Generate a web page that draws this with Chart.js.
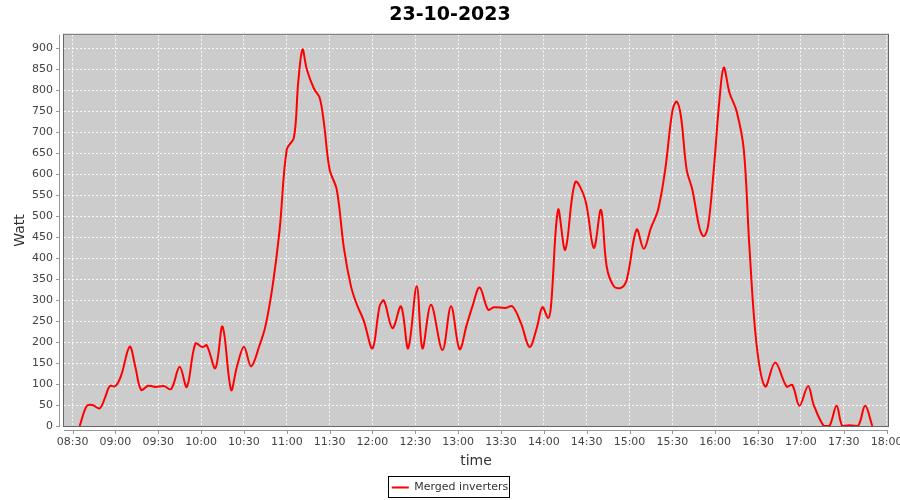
<!DOCTYPE html>
<html>
<head>
<meta charset="utf-8">
<title>23-10-2023</title>
<script src="https://cdn.jsdelivr.net/npm/chart.js@4.4.0/dist/chart.umd.min.js"></script>
<style>
  html, body { margin: 0; padding: 0; background: #ffffff; }
  #wrap { width: 900px; height: 500px; }
</style>
</head>
<body>
<div id="wrap"><canvas id="chart" width="900" height="500"></canvas></div>
<script>
'use strict';

// readings of the merged inverters, time of day and power in watt
let times = ['08:35', '08:40', '08:44', '08:49', '08:53', '08:56', '09:00', '09:04', '09:10', '09:14',
    '09:18', '09:23', '09:28', '09:34', '09:39', '09:45', '09:50', '09:56', '10:01', '10:04',
    '10:10', '10:15', '10:21', '10:25', '10:30', '10:35', '10:41', '10:45', '10:50', '10:55',
    '11:00', '11:05', '11:08', '11:11', '11:14', '11:19', '11:23', '11:26', '11:30', '11:35',
    '11:40', '11:45', '11:49', '11:54', '12:00', '12:05', '12:08', '12:14', '12:20', '12:25',
    '12:31', '12:35', '12:41', '12:49', '12:55', '13:01', '13:06', '13:10', '13:15', '13:21',
    '13:25', '13:33', '13:38', '13:44', '13:50', '13:55', '13:59', '14:03', '14:05', '14:10',
    '14:15', '14:22', '14:29', '14:35', '14:40', '14:44', '14:49', '14:54', '14:58', '15:05',
    '15:10', '15:15', '15:20', '15:25', '15:30', '15:33', '15:36', '15:40', '15:44', '15:49',
    '15:52', '15:55', '15:59', '16:03', '16:06', '16:10', '16:15', '16:20', '16:24', '16:29',
    '16:35', '16:42', '16:50', '16:54', '16:59', '17:05', '17:09', '17:16', '17:20', '17:25',
    '17:29', '17:34', '17:40', '17:45', '17:50'];
let watts = [0, 48, 50, 42, 70, 95, 95, 120, 189, 140,
    86, 96, 93, 95, 88, 141, 93, 196, 188, 192,
    138, 237, 86, 140, 189, 142, 193, 237, 332, 468,
    659, 687, 818, 897, 850, 804, 782, 722, 611, 563,
    424, 332, 290, 250, 185, 285, 299, 233, 285, 185,
    333, 185, 289, 181, 285, 183, 241, 285, 330, 277,
    283, 281, 285, 245, 188, 233, 283, 257, 285, 515,
    420, 581, 539, 424, 515, 380, 333, 329, 348, 468,
    422, 472, 515, 611, 750, 773, 738, 611, 563, 472,
    452, 476, 611, 778, 854, 794, 750, 659, 424, 193,
    94, 151, 94, 98, 48, 95, 50, 0, 0, 48,
    0, 2, 0, 48, 0];

let xTickLabels = ['08:30', '09:00', '09:30', '10:00', '10:30', '11:00', '11:30', '12:00', '12:30', '13:00',
    '13:30', '14:00', '14:30', '15:00', '15:30', '16:00', '16:30', '17:00', '17:30', '18:00'];
let yTickValues = [0, 50, 100, 150, 200, 250, 300, 350, 400, 450, 500, 550, 600, 650, 700, 750, 800, 850, 900];

let xMin = '08:24';
let xMax = '18:01';
let yMax = 932;

function toMinutes(hhmm) {
    let parts = hhmm.split(':');
    return Number(parts[0]) * 60 + Number(parts[1]);
}

function toLabel(minutes) {
    let h = Math.floor(minutes / 60);
    let m = Math.round(minutes % 60);
    return String(h).padStart(2, '0') + ':' + String(m).padStart(2, '0');
}

let points = [];
times.forEach((t, i) => {
    points.push({ x: toMinutes(t), y: watts[i] });
});

const font = 'DejaVu Sans';

// grey plot background, plot outline and the jfreechart style axis lines
const plotFrame = {
    id: 'plotFrame',
    beforeDraw(chart) {
        let a = chart.chartArea;
        let ctx = chart.ctx;
        ctx.save();
        ctx.fillStyle = '#cccccc';
        ctx.fillRect(a.left, a.top, a.right - a.left, a.bottom - a.top);
        ctx.restore();
    },
    afterDraw(chart) {
        let a = chart.chartArea;
        let ctx = chart.ctx;
        ctx.save();
        ctx.strokeStyle = '#666666';
        ctx.lineWidth = 1;
        ctx.strokeRect(a.left - 0.5, a.top - 0.5, a.right - a.left + 1, a.bottom - a.top + 1);

        ctx.strokeStyle = '#999999';
        ctx.beginPath();
        ctx.moveTo(a.left - 4.5, a.top);
        ctx.lineTo(a.left - 4.5, a.bottom);
        ctx.moveTo(a.left, a.bottom + 4.5);
        ctx.lineTo(a.right, a.bottom + 4.5);
        chart.scales.y.ticks.forEach(t => {
            let py = Math.round(chart.scales.y.getPixelForValue(t.value)) + 0.5;
            ctx.moveTo(a.left - 8, py);
            ctx.lineTo(a.left - 4, py);
        });
        chart.scales.x.ticks.forEach(t => {
            let px = Math.round(chart.scales.x.getPixelForValue(t.value)) + 0.5;
            ctx.moveTo(px, a.bottom + 4);
            ctx.lineTo(px, a.bottom + 8);
        });
        ctx.stroke();

        // box round the legend item
        let box = chart.legend.legendHitBoxes[0];
        if (box) {
            ctx.strokeStyle = '#000000';
            ctx.strokeRect(Math.round(box.left) - 3.5, Math.round(box.top) - 5.5,
                Math.round(box.width) + 5, Math.round(box.height) + 10);
        }
        ctx.restore();
    }
};

const canvasEl = document.getElementById('chart');

let chart = new Chart(canvasEl.getContext('2d'), {
    type: 'line',
    data: {
        datasets: [{
            label: 'Merged inverters',
            data: points,
            borderColor: '#ff0000',
            backgroundColor: '#ff0000',
            borderWidth: 2,
            pointRadius: 0,
            tension: 0.35,
            fill: false
        }]
    },
    options: {
        responsive: false,
        animation: false,
        devicePixelRatio: 1,
        layout: { padding: 0 },
        plugins: {
            title: {
                display: true,
                text: '23-10-2023',
                color: '#000000',
                font: { family: font, size: 19, weight: 'bold' },
                padding: { top: 4, bottom: 8 }
            },
            legend: {
                position: 'bottom',
                maxHeight: 24,
                labels: {
                    color: '#333333',
                    font: { family: font, size: 11 },
                    boxWidth: 17,
                    boxHeight: 2,
                    padding: 6,
                    generateLabels: c => Chart.defaults.plugins.legend.labels.generateLabels(c)
                        .map(l => Object.assign(l, { lineWidth: 0 }))
                }
            },
            tooltip: { enabled: false }
        },
        scales: {
            x: {
                type: 'linear',
                min: toMinutes(xMin),
                max: toMinutes(xMax),
                afterBuildTicks: scale => {
                    scale.ticks = xTickLabels.map(l => ({ value: toMinutes(l) }));
                },
                afterFit: scale => {
                    scale.height = 50;
                    scale.paddingLeft = 0;
                    scale.paddingRight = 12;
                },
                ticks: {
                    callback: v => toLabel(v),
                    color: '#444444',
                    font: { family: font, size: 11 },
                    padding: 10,
                    maxRotation: 0,
                    autoSkip: false
                },
                grid: {
                    color: 'rgba(255,255,255,0.85)',
                    drawTicks: false
                },
                border: { display: false, dash: [2, 2] },
                title: {
                    display: true,
                    text: 'time',
                    color: '#333333',
                    font: { family: font, size: 14 },
                    padding: { top: 0, bottom: 6 }
                }
            },
            y: {
                min: 0,
                max: yMax,
                afterBuildTicks: scale => {
                    scale.ticks = yTickValues.map(v => ({ value: v }));
                },
                afterFit: scale => {
                    scale.width = 64;
                    scale.paddingTop = 0;
                    scale.paddingBottom = 0;
                },
                ticks: {
                    color: '#444444',
                    font: { family: font, size: 11 },
                    padding: 11
                },
                grid: {
                    color: 'rgba(255,255,255,0.85)',
                    drawTicks: false
                },
                border: { display: false, dash: [2, 2] },
                title: {
                    display: true,
                    text: 'Watt',
                    color: '#333333',
                    font: { family: font, size: 14 },
                    padding: { top: 12, bottom: 0 }
                }
            }
        }
    },
    plugins: [plotFrame]
});
</script>
</body>
</html>
